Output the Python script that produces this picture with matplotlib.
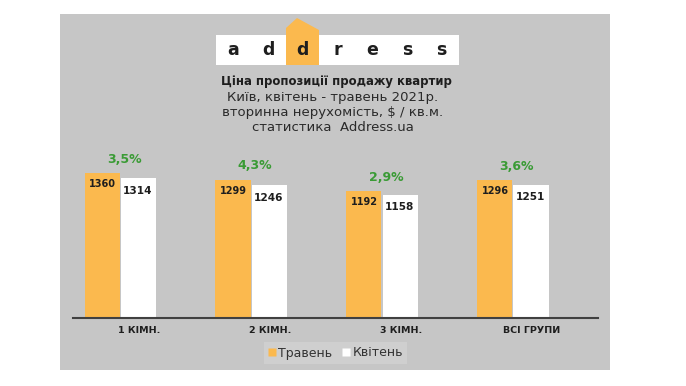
import matplotlib
matplotlib.use("Agg")
import matplotlib.pyplot as plt
import numpy as np
from matplotlib.patches import Rectangle, Polygon
from matplotlib.lines import Line2D


categories = ["1 КІМН.", "2 КІМН.", "3 КІМН.", "ВСІ ГРУПИ"]
may_values = [1360, 1299, 1192, 1296]
april_values = [1314, 1246, 1158, 1251]
growth_labels = ["3,5%", "4,3%", "2,9%", "3,6%"]

logo_letters = ["a", "d", "d", "r", "e", "s", "s"]
title_bold = "Ціна пропозиції продажу квартир"
title_lines = [
    "Київ, квітень - травень 2021р.",
    "вторинна нерухомість, $ / кв.м.",
    "статистика  Address.ua",
]
legend_labels = ["Травень", "Квітень"]

ORANGE = "#fbb94e"
PANEL = "#c6c6c6"
GREEN = "#3a9b35"
DARK = "#1e1e1e"

W, H = 686, 386

plt.rcParams["font.family"] = ["DejaVu Sans"]

fig = plt.figure(figsize=(W / 100, H / 100), dpi=100)
fig.patch.set_facecolor("white")

# background layer in pixel coordinates
bg = fig.add_axes([0, 0, 1, 1])
bg.set_xlim(0, W)
bg.set_ylim(H, 0)
bg.axis("off")
bg.set_zorder(0)

bg.add_patch(Rectangle((60, 14), 550, 356, facecolor=PANEL, edgecolor="none"))

# logo
bg.add_patch(Rectangle((216, 35), 243, 30, facecolor="white", edgecolor="none"))
bg.add_patch(Polygon([(286, 65), (286, 28), (297, 18), (319, 30), (319, 65)],
                     closed=True, facecolor=ORANGE, edgecolor="none"))
cell = 243 / len(logo_letters)
for i, letter in enumerate(logo_letters):
    bg.text(216 + cell * (i + 0.5), 50, letter, ha="center", va="center",
            fontsize=12.5, fontweight="bold", color=DARK)

bg.text(336, 82, title_bold, ha="center", va="center",
        fontsize=8.4, fontweight="bold", color=DARK)
for i, line in enumerate(title_lines):
    bg.text(333, 97 + 15.3 * i, line, ha="center", va="center",
            fontsize=9.5, color="#2a2a2a")

# bar chart
left, right, base, top = 73, 598, 318, 118
ax = fig.add_axes([left / W, (H - base) / H, (right - left) / W, (base - top) / H])
ax.set_zorder(1)
ax.patch.set_alpha(0)

x = np.arange(len(categories))
bw = 0.268
ax.bar(x - bw / 2 - 0.004, may_values, bw, color=ORANGE, zorder=2)
ax.bar(x + bw / 2 + 0.004, april_values, bw, color="white", zorder=2)

ax.set_xlim(-0.36, 3.65)
ax.set_ylim(0, (base - top) / 0.1064)

for i in range(len(categories)):
    ax.annotate(str(may_values[i]), (x[i] - bw / 2, may_values[i]),
                xytext=(0, -8), textcoords="offset points",
                ha="center", va="center", fontsize=7, fontweight="bold", color=DARK)
    ax.annotate(str(april_values[i]), (x[i] + bw / 2, april_values[i]),
                xytext=(0, -9), textcoords="offset points",
                ha="center", va="center", fontsize=7.6, fontweight="bold", color=DARK)
    ax.annotate(growth_labels[i], (x[i] + 0.03, may_values[i]),
                xytext=(0, 10), textcoords="offset points",
                ha="center", va="center", fontsize=9, fontweight="bold", color=GREEN)

for s in ["top", "right", "left"]:
    ax.spines[s].set_visible(False)
ax.spines["bottom"].set_color("#404040")
ax.spines["bottom"].set_linewidth(1.5)
ax.set_yticks([])
ax.set_xticks(x + 0.145)
ax.set_xticklabels(categories, fontsize=6.8, fontweight="bold", color=DARK)
ax.tick_params(axis="x", length=0, pad=6)

handles = [
    Line2D([], [], marker="s", linestyle="none", markersize=6,
           markerfacecolor=ORANGE, markeredgecolor="none"),
    Line2D([], [], marker="s", linestyle="none", markersize=6,
           markerfacecolor="white", markeredgecolor="none"),
]
leg = fig.legend(handles, legend_labels, loc="center",
                 bbox_to_anchor=(335.5 / W, (H - 353) / H), ncol=2,
                 frameon=True, fancybox=False, fontsize=9,
                 handlelength=0.6, handletextpad=0.2, columnspacing=0.8,
                 borderpad=0.35)
leg.get_frame().set_facecolor("#cfcfcf")
leg.get_frame().set_edgecolor("none")
leg.get_frame().set_alpha(1)
for t in leg.get_texts():
    t.set_color("#333333")

fig.savefig("out.png", dpi=100, facecolor="white")
